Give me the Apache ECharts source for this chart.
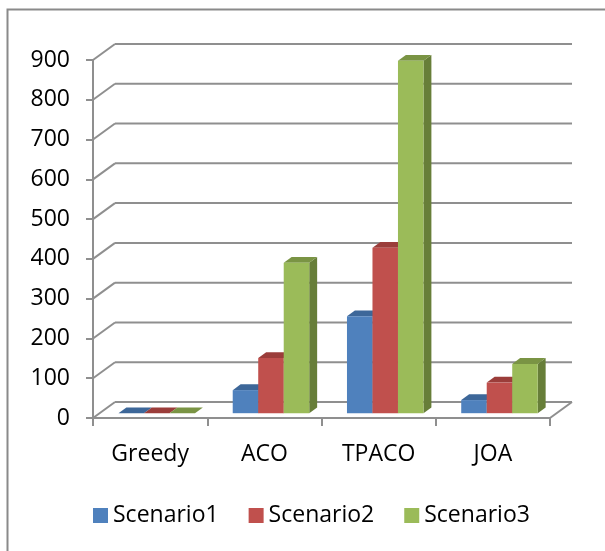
<!DOCTYPE html>
<html>
<head>
<meta charset="utf-8">
<script src="https://cdn.jsdelivr.net/npm/echarts@6/dist/echarts.min.js"></script>
<style>
html,body{margin:0;padding:0;background:#fff;}
#chart{width:605px;height:551px;}
</style>
</head>
<body>
<div id="chart"></div>
<script>
// ---- data ----
const categories = ['Greedy', 'ACO', 'TPACO', 'JOA'];
const scenario1 = [0, 58, 244, 33];
const scenario2 = [0, 139, 416, 77];
const scenario3 = [0, 378, 886, 124];
const seriesNames = ['Scenario1', 'Scenario2', 'Scenario3'];
const yTicks = [0, 100, 200, 300, 400, 500, 600, 700, 800, 900];

// ---- style / projection ----
const FONT = '"Open Sans", sans-serif';
const FONT_SIZE = 23;
const DEPTH_DX = 22, DEPTH_DY = -16;     // full depth of the 3D box
const BAR_PLANE = 0.3;                   // depth fraction of the bar front faces
const BAR_DEPTH = 0.36;                  // depth fraction occupied by a bar
const BAR_FRAC = 0.2232;                 // bar width relative to category band
const GRID_COLOR = '#8f8f8f';
const palette = [
  {front: '#4F81BD', top: '#3D6799', side: '#385D8A'},
  {front: '#C0504D', top: '#9B3D3A', side: '#8C3836'},
  {front: '#9BBB59', top: '#7A9444', side: '#677E39'}
];
const seriesValues = [scenario1, scenario2, scenario3];

function barRenderer(sIdx) {
  return function (params, api) {
    const ci = api.value(0), v = api.value(1);
    const band = api.size([1, 0])[0];
    const bw = band * BAR_FRAC;
    const c = api.coord([ci, v]);
    const base = api.coord([ci, 0]);
    const ox = DEPTH_DX * BAR_PLANE, oy = DEPTH_DY * BAR_PLANE;
    const dx = DEPTH_DX * BAR_DEPTH, dy = DEPTH_DY * BAR_DEPTH;
    const left = c[0] + (sIdx - 1.5) * bw + ox;
    const right = left + bw;
    const yTop = c[1] + oy;
    const yBase = base[1] + oy;
    const col = palette[sIdx];
    return {
      type: 'group',
      children: [
        {type: 'polygon', shape: {points: [[right, yTop], [right + dx, yTop + dy], [right + dx, yBase + dy], [right, yBase]]},
         style: {fill: col.side}},
        {type: 'polygon', shape: {points: [[left, yTop], [right, yTop], [right + dx, yTop + dy], [left + dx, yTop + dy]]},
         style: {fill: col.top}},
        {type: 'rect', shape: {x: left, y: yTop, width: bw, height: yBase - yTop},
         style: {fill: col.front}}
      ]
    };
  };
}

function wallRenderer(params, api) {
  const v = api.value(1);
  const cs = params.coordSys;
  const x0 = cs.x, x1 = cs.x + cs.width;
  const y = api.coord([0, v])[1];
  const ls = {stroke: GRID_COLOR, lineWidth: 2, fill: null};
  const children = [
    {type: 'line', shape: {x1: x0, y1: y, x2: x0 + DEPTH_DX, y2: y + DEPTH_DY}, style: ls},
    {type: 'line', shape: {x1: x0 + DEPTH_DX, y1: y + DEPTH_DY, x2: x1 + DEPTH_DX, y2: y + DEPTH_DY}, style: ls}
  ];
  if (v === 0) {
    children.push({type: 'line', shape: {x1: x1, y1: y, x2: x1 + DEPTH_DX, y2: y + DEPTH_DY}, style: ls});
  }
  return {type: 'group', children: children};
}

const series = [{
  type: 'custom',
  name: 'walls',
  coordinateSystem: 'cartesian2d',
  renderItem: wallRenderer,
  data: yTicks.map(t => [0, t]),
  encode: {x: 0, y: 1},
  silent: true,
  z: 1
}];
seriesNames.forEach((name, i) => {
  series.push({
    type: 'custom',
    name: name,
    coordinateSystem: 'cartesian2d',
    renderItem: barRenderer(i),
    data: seriesValues[i].map((v, ci) => [ci, v]),
    encode: {x: 0, y: 1},
    itemStyle: {color: palette[i].front},
    z: 3
  });
});

const chart = echarts.init(document.getElementById('chart'), null, {renderer: 'canvas'});
chart.setOption({
  animation: false,
  backgroundColor: '#fff',
  textStyle: {fontFamily: FONT},
  grid: {left: 93, right: 55, top: 60, bottom: 133, containLabel: false},
  xAxis: {
    type: 'category',
    data: categories,
    boundaryGap: true,
    axisLine: {show: true, lineStyle: {color: GRID_COLOR, width: 2}},
    axisTick: {show: true, length: 8, lineStyle: {color: GRID_COLOR, width: 2}},
    axisLabel: {color: '#000', fontSize: FONT_SIZE, fontFamily: FONT, margin: 25},
    splitLine: {show: false}
  },
  yAxis: {
    type: 'value',
    min: 0, max: 900, interval: 100,
    axisLine: {show: true, lineStyle: {color: GRID_COLOR, width: 2}},
    axisTick: {show: true, length: 7, lineStyle: {color: GRID_COLOR, width: 2}},
    axisLabel: {color: '#000', fontSize: FONT_SIZE, fontFamily: FONT, margin: 23, padding: [4, 0, 0, 0]},
    splitLine: {show: false}
  },
  legend: {
    data: seriesNames,
    left: 93, top: 504,
    padding: 0,
    itemWidth: 15, itemHeight: 15,
    itemGap: 30,
    icon: 'rect',
    textStyle: {color: '#000', fontSize: FONT_SIZE, fontFamily: FONT}
  },
  graphic: [{
    type: 'rect',
    left: 5, top: 7,
    shape: {x: 0, y: 0, width: 700, height: 700},
    style: {fill: null, stroke: '#8a8a8a', lineWidth: 2},
    silent: true,
    z: -1
  }],
  series: series
});
</script>
</body>
</html>
